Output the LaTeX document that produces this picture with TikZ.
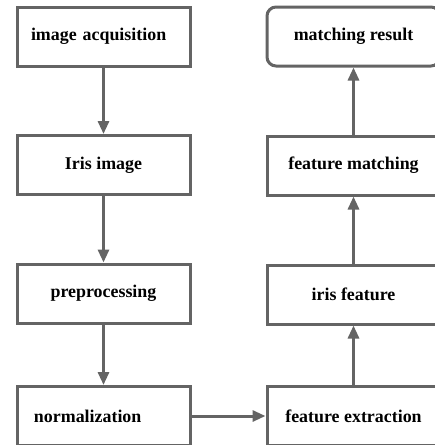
\documentclass[tikz,border=0pt]{standalone}
\usepackage{fontspec}
\setmainfont{Liberation Serif}
\usetikzlibrary{arrows.meta}
\definecolor{linegray}{RGB}{100,100,100}
\tikzset{
  box/.style={draw=linegray, line width=3pt, fill=white, minimum width=173pt, minimum height=59pt,
    inner sep=0pt, font=\fontsize{17.9}{20}\selectfont\bfseries},
  roundbox/.style={box, rounded corners=9pt},
  leftbox/.style={box, text width=145pt, align=left},
  flow/.style={draw=linegray, line width=3pt, -{Triangle[length=13pt,width=11pt]}}
}
\begin{document}
\begin{tikzpicture}[x=1pt, y=-1pt]
      \clip (0,0) rectangle (435,445);
      \fill[white] (0,0) rectangle (435,445);
      % Left column: acquisition down to normalization
      \node[leftbox] (acq) at (103.5,36.5) {image acquisition};
      \node[box] (img) at (103.5,165) {Iris image};
      \node[box] (pre) at (103.5,293.5) {preprocessing};
      \node[leftbox, text width=139pt] (norm) at (103.5,416) {normalization};
      % Right column: extraction up to result
      \node[box] (ext) at (353.5,416) {feature extraction};
      \node[box] (feat) at (353.5,294.5) {iris feature};
      \node[box] (match) at (353.5,165.5) {feature matching};
      \node[roundbox] (res) at (353.5,36.5) {matching result};
      % Arrows
      \draw[flow] (acq) -- (img);
      \draw[flow] (img) -- (pre);
      \draw[flow] (pre) -- (norm);
      \draw[flow] (norm) -- (ext);
      \draw[flow] (ext) -- (feat);
      \draw[flow] (feat) -- (match);
      \draw[flow] (match) -- (res);
    \end{tikzpicture}
\end{document}
